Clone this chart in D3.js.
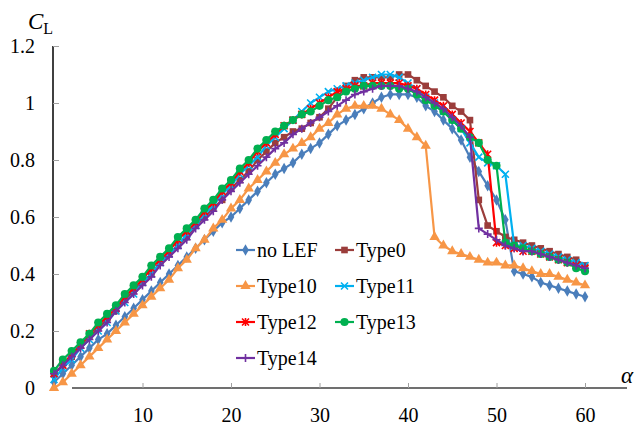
<!DOCTYPE html>
<html>
<head>
<meta charset="utf-8">
<script src="https://cdn.jsdelivr.net/npm/d3@7"></script>
<style>
  body { margin: 0; background: #fff; }
  svg text { font-family: "Times New Roman", Times, "Liberation Serif", "DejaVu Serif", serif; }
</style>
</head>
<body>
<div id="chart"></div>
<script>
const alpha = d3.range(0, 61);

const noLEF = [0.02,0.05,0.08,0.11,0.14,0.17,0.19,0.22,0.25,0.28,0.31,0.34,0.37,0.40,0.43,0.46,0.49,0.52,0.55,0.58,0.60,0.63,0.66,0.69,0.72,0.75,0.77,0.79,0.82,0.84,0.86,0.89,0.92,0.94,0.96,0.98,1.00,1.02,1.03,1.03,1.03,1.02,0.99,0.97,0.94,0.91,0.87,0.81,0.76,0.71,0.66,0.59,0.41,0.40,0.39,0.37,0.36,0.35,0.34,0.33,0.32];
const type0 = [0.05,0.08,0.11,0.15,0.18,0.21,0.24,0.27,0.31,0.34,0.37,0.40,0.44,0.47,0.50,0.53,0.57,0.60,0.63,0.66,0.70,0.73,0.76,0.80,0.83,0.86,0.88,0.90,0.91,0.93,0.95,0.98,1.02,1.06,1.08,1.09,1.09,1.09,1.09,1.10,1.10,1.08,1.06,1.04,1.02,0.99,0.97,0.94,0.66,0.57,0.55,0.53,0.52,0.51,0.50,0.49,0.48,0.47,0.46,0.45,0.43];
const type10 = [0.00,0.02,0.05,0.08,0.11,0.14,0.17,0.20,0.23,0.26,0.29,0.32,0.35,0.38,0.42,0.45,0.49,0.52,0.56,0.59,0.63,0.66,0.70,0.73,0.76,0.79,0.82,0.84,0.86,0.88,0.91,0.93,0.96,0.98,0.99,0.99,0.99,0.98,0.96,0.94,0.91,0.88,0.85,0.53,0.50,0.48,0.47,0.46,0.45,0.44,0.44,0.43,0.43,0.42,0.41,0.40,0.40,0.39,0.38,0.37,0.36];
const type11 = [0.03,0.07,0.10,0.14,0.17,0.20,0.23,0.27,0.30,0.33,0.37,0.40,0.44,0.47,0.50,0.54,0.57,0.61,0.64,0.68,0.71,0.75,0.78,0.81,0.85,0.88,0.91,0.94,0.97,1.00,1.02,1.04,1.05,1.06,1.07,1.08,1.09,1.10,1.10,1.09,1.07,1.05,1.02,1.00,0.97,0.94,0.91,0.86,0.81,0.79,0.78,0.75,0.50,0.50,0.49,0.48,0.47,0.46,0.45,0.44,0.43];
const type12 = [0.05,0.08,0.12,0.15,0.19,0.22,0.25,0.28,0.32,0.35,0.38,0.42,0.45,0.48,0.52,0.55,0.58,0.62,0.65,0.69,0.72,0.76,0.79,0.83,0.86,0.89,0.92,0.94,0.96,0.98,1.00,1.02,1.04,1.05,1.06,1.06,1.07,1.07,1.07,1.07,1.06,1.05,1.03,1.01,0.99,0.96,0.93,0.90,0.86,0.82,0.51,0.50,0.49,0.48,0.48,0.47,0.46,0.45,0.44,0.43,0.42];
const type13 = [0.06,0.10,0.13,0.16,0.19,0.23,0.26,0.29,0.33,0.36,0.39,0.43,0.46,0.49,0.53,0.56,0.59,0.63,0.66,0.70,0.73,0.77,0.80,0.84,0.87,0.90,0.92,0.94,0.96,0.97,0.99,1.01,1.02,1.04,1.05,1.06,1.06,1.06,1.06,1.05,1.05,1.03,1.01,0.99,0.97,0.94,0.91,0.88,0.86,0.80,0.78,0.51,0.50,0.49,0.48,0.47,0.46,0.45,0.44,0.42,0.41];
const type14 = [0.05,0.08,0.11,0.14,0.17,0.20,0.23,0.27,0.30,0.33,0.36,0.39,0.43,0.46,0.49,0.52,0.56,0.59,0.62,0.66,0.69,0.72,0.75,0.78,0.81,0.84,0.86,0.89,0.91,0.93,0.95,0.97,0.99,1.01,1.03,1.04,1.05,1.06,1.06,1.06,1.05,1.04,1.02,1.00,0.98,0.95,0.92,0.88,0.56,0.54,0.52,0.50,0.49,0.48,0.48,0.47,0.46,0.45,0.44,0.43,0.42];

const seriesNames = ["no LEF", "Type0", "Type10", "Type11", "Type12", "Type13", "Type14"];
const seriesValues = [noLEF, type0, type10, type11, type12, type13, type14];
const xTicks = [10, 20, 30, 40, 50, 60];
const yTicks = [0, 0.2, 0.4, 0.6, 0.8, 1, 1.2];

const colors = ["#4A7EBB", "#9B3D3B", "#F79646", "#00B0F0", "#FF0000", "#00B050", "#7030A0"];
const markers = ["diamond", "square", "triangle", "x", "star", "circle", "plus"];

const width = 636, height = 426;
const x = d3.scaleLinear().domain([0, 60]).range([54, 585]);
const y = d3.scaleLinear().domain([0, 1.2]).range([388, 46]);

const svg = d3.select("#chart").append("svg")
  .attr("width", width)
  .attr("height", height);

// axes
svg.append("line")
  .attr("x1", x(0) - 1).attr("x2", x(0) - 1)
  .attr("y1", y(1.2)).attr("y2", y(0))
  .attr("stroke", "#404040").attr("stroke-width", 2);

svg.append("line")
  .attr("x1", 72).attr("x2", 627)
  .attr("y1", y(0)).attr("y2", y(0))
  .attr("stroke", "#404040").attr("stroke-width", 1.6);

const yAxis = svg.append("g")
  .attr("transform", `translate(${x(0) - 1},0)`)
  .call(d3.axisLeft(y).tickValues(yTicks).tickSize(-6).tickPadding(18)
    .tickFormat(d => d3.format("")(d)));
yAxis.attr("font-family", null);
yAxis.select(".domain").remove();
yAxis.selectAll(".tick line").attr("stroke", "#a0a0a0");
yAxis.selectAll(".tick text")
  .attr("x", -18)
  .style("font-size", "20px")
  .attr("fill", "#000");
yAxis.selectAll(".tick").filter(d => d === 0).select("line").remove();

const xAxis = svg.append("g")
  .attr("transform", `translate(0,${y(0)})`)
  .call(d3.axisBottom(x).tickValues(xTicks).tickSize(-5).tickPadding(20));
xAxis.attr("font-family", null);
xAxis.select(".domain").remove();
xAxis.selectAll(".tick line").attr("stroke", "#a0a0a0");
xAxis.selectAll(".tick text")
  .style("font-size", "20px")
  .attr("fill", "#000");

// axis titles
const cl = svg.append("text").attr("x", 28).attr("y", 29)
  .style("font-size", "23px").style("font-style", "italic");
cl.append("tspan").text("C");
cl.append("tspan").attr("dy", 5).style("font-size", "16px").style("font-style", "normal").text("L");

svg.append("text").attr("x", 621).attr("y", 383)
  .style("font-size", "23px").style("font-style", "italic").text("α");

function markerPath(type) {
  switch (type) {
    case "diamond": return d3.symbol(d3.symbolDiamond, 38)();
    case "square": return d3.symbol(d3.symbolSquare, 44)();
    case "triangle": return d3.symbol(d3.symbolTriangle, 46)();
    case "circle": return d3.symbol(d3.symbolCircle, 52)();
    case "x": return "M-3.5,-3.5L3.5,3.5M-3.5,3.5L3.5,-3.5";
    case "star": return "M-3.5,-3.5L3.5,3.5M-3.5,3.5L3.5,-3.5M0,-4L0,4";
    case "plus": return "M-4,0L4,0M0,-4L0,4";
  }
}
const stroked = t => t === "x" || t === "star" || t === "plus";

const line = d3.line().x((d, i) => x(alpha[i])).y(d => y(d));

seriesValues.forEach((vals, s) => {
  const g = svg.append("g");
  g.append("path")
    .attr("d", line(vals))
    .attr("fill", "none")
    .attr("stroke", colors[s])
    .attr("stroke-width", 2.2)
    .attr("stroke-linejoin", "round");
  g.selectAll("path.m")
    .data(vals)
    .join("path")
    .attr("class", "m")
    .attr("transform", (d, i) => `translate(${x(alpha[i])},${y(d)})`)
    .attr("d", markerPath(markers[s]))
    .attr("fill", stroked(markers[s]) ? "none" : colors[s])
    .attr("stroke", stroked(markers[s]) ? colors[s] : "none")
    .attr("stroke-width", 1.6);
});

// legend
const legendX = [236, 335];
const legendY = [250, 286, 322, 358];
seriesNames.forEach((name, s) => {
  const lx = legendX[s % 2], ly = legendY[Math.floor(s / 2)];
  const g = svg.append("g").attr("transform", `translate(${lx},${ly})`);
  g.append("line").attr("x1", 0).attr("x2", 19).attr("y1", 0).attr("y2", 0)
    .attr("stroke", colors[s]).attr("stroke-width", 2.2);
  g.append("path").attr("transform", "translate(9.5,0)")
    .attr("d", markerPath(markers[s]))
    .attr("fill", stroked(markers[s]) ? "none" : colors[s])
    .attr("stroke", stroked(markers[s]) ? colors[s] : "none")
    .attr("stroke-width", 1.6);
  g.append("text").attr("x", 21).attr("y", 7)
    .style("font-size", "20px").text(name);
});
</script>
</body>
</html>
